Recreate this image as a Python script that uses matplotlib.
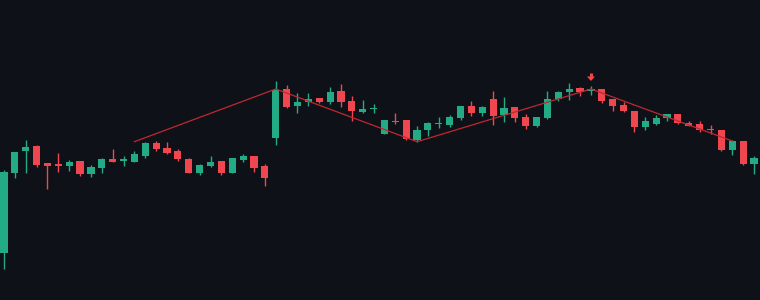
import matplotlib
matplotlib.use("Agg")
import matplotlib.pyplot as plt
import numpy as np

opens = [47.3, 127.3, 149.3, 154.3, 137, 135, 134.3, 139, 126, 132.3,
         141, 139.4, 138, 144.3, 157, 152, 149, 141, 127.3, 134,
         139, 127.3, 140.3, 144, 134.3, 162, 211, 194, 197.7, 202,
         198, 209, 199, 188, 191, 166.3, 178.3, 180, 160, 170,
         175.7, 175, 182.3, 194.3, 187.3, 201, 185.3, 193, 183.3, 174,
         182, 201, 208.3, 212, 209.3, 211, 201, 195, 189, 173,
         176.3, 182.3, 186, 177.3, 176.3, 170.5, 170.3, 150.3, 159.3, 136.3]
highs = [130, 148, 160, 155, 137, 147, 140, 139, 135.3, 142,
         151, 144, 149, 158, 159, 157.7, 150.7, 142, 136.3, 144,
         139.5, 142, 146, 144.5, 136.3, 219, 215, 207, 207, 202.5,
         213, 216, 204, 200, 196, 180.5, 187.3, 180, 174.3, 178.3,
         183.3, 185, 194.5, 199, 194.3, 209, 203, 193.5, 186, 183.5,
         209, 209, 217, 213, 214, 211.5, 201.5, 197.7, 189.5, 183,
         185, 186.5, 186.5, 179, 179, 175.3, 170.5, 160.3, 159.5, 144]
lows = [31, 122.3, 127.3, 133.3, 111, 128, 129.3, 124.3, 123, 127.3,
        137.7, 134.3, 138, 142.3, 149.3, 146, 139.3, 127, 125.3, 133,
        125.3, 127.3, 138.3, 128.3, 114.3, 155, 192.5, 187.3, 194.3, 197,
        196, 193, 179.3, 187.3, 187.3, 166, 176.3, 160.3, 158, 164.3,
        172.3, 173, 180.3, 184.3, 184.3, 175.3, 178.3, 178.3, 171.3, 173,
        181, 199, 200.3, 204.3, 205.3, 197.3, 189.5, 188.3, 168.3, 170.3,
        175.3, 179.3, 176, 174, 168.3, 166.3, 149.3, 145.3, 135.3, 126.3]
closes = [128, 148, 153.3, 135, 134.3, 134.5, 138, 126, 133, 141,
          138, 140, 146, 157.3, 151, 147, 141.3, 127.3, 135, 138,
          127.3, 142, 144.3, 132.3, 122.3, 210, 193, 198, 201, 198,
          208, 198, 189.3, 191, 191.5, 180, 177.7, 161.3, 170, 177,
          176.3, 183, 194.3, 187.3, 193, 184.3, 192, 182.3, 174, 183.3,
          201, 208, 211.3, 208, 211, 199.3, 194.3, 189.3, 173.3, 179,
          182, 186, 177, 174.3, 170.3, 170, 150.3, 159.3, 136.3, 142.3]

# zigzag line pivots (candle index, price)
zz_idx = [12, 25, 38, 54, 67]
zz_val = [158.3, 211, 158.3, 211, 159]

# signal arrow
arrow_idx = 54
arrow_top = 227.5
arrow_tip = 219

BG = "#0e1118"
UP = "#22ab84"
DOWN = "#ef4650"
LINE = "#c0282f"

fig = plt.figure(figsize=(7.6, 3.0), dpi=100, facecolor=BG)
ax = fig.add_axes([0, 0, 1, 1])
ax.set_facecolor(BG)

x = np.arange(len(opens))
o = np.array(opens); c = np.array(closes)
h = np.array(highs); l = np.array(lows)
up = c >= o
cols = np.where(up, UP, DOWN)

ax.vlines(x, l, h, colors=cols, linewidth=1.0, zorder=2)
bottoms = np.minimum(o, c)
heights = np.maximum(np.abs(c - o), 1.3)
ax.bar(x, heights, bottom=bottoms, width=0.66, color=cols, linewidth=0, zorder=3)

ax.plot(zz_idx, zz_val, color=LINE, linewidth=0.9, zorder=4)

# arrow: shaft + head
head_h = 4.5
ax.vlines([arrow_idx], arrow_tip + head_h - 0.5, arrow_top, colors=DOWN,
          linewidth=2.2, zorder=5)
ax.fill([arrow_idx - 0.37, arrow_idx + 0.37, arrow_idx],
        [arrow_tip + head_h, arrow_tip + head_h, arrow_tip],
        color=DOWN, linewidth=0, zorder=5)

sp = 760 / 69.92
xmin = -4 / sp
ax.set_xlim(xmin, xmin + 760 / sp)
ax.set_ylim(0, 300)
ax.axis("off")

fig.savefig("out.png", dpi=100, facecolor=BG)
